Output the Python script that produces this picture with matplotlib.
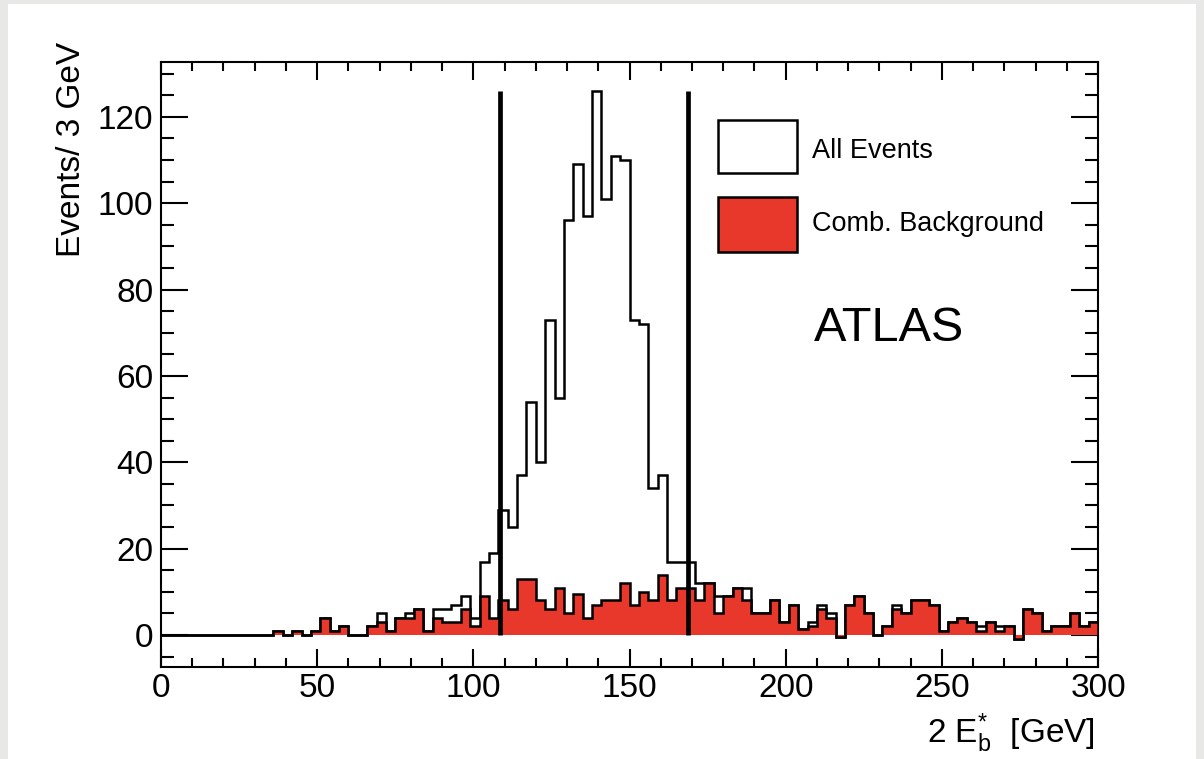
import numpy as np
import matplotlib
matplotlib.use("Agg")
import matplotlib.pyplot as plt
from matplotlib.patches import Rectangle
from matplotlib.ticker import MultipleLocator

plt.rcParams["font.family"] = ["Liberation Sans", "DejaVu Sans"]
plt.rcParams["mathtext.fontset"] = "custom"
plt.rcParams["mathtext.rm"] = "Liberation Sans"
plt.rcParams["mathtext.it"] = "Liberation Sans:italic"

# 100 bins of 3 GeV, 0 - 300 GeV
bin_edges = np.arange(0, 301, 3)

all_events = [0, 0, 0, 0, 0, 0, 0, 0, 0, 0,
              0, 0, 1, 0, 1, 0, 1, 4, 1, 2,
              0, 0, 2, 5, 1, 4, 5, 6, 1, 6,
              6, 7, 9, 4, 17, 19, 29, 25, 37, 54,
              40, 73, 55, 96, 109, 97, 126, 101, 111, 110,
              73, 72, 34, 37, 17, 17, 17, 12, 12, 9,
              9, 11, 11, 5, 5, 8, 3, 7, 1.5, 3,
              7, 5, -0.5, 7, 9, 5, 0, 2, 7, 5,
              8, 8, 7, 1, 3, 4, 3, 2, 3, 2,
              2, -1, 6, 5, 1, 2, 2, 5, 2, 3]

comb_background = [0, 0, 0, 0, 0, 0, 0, 0, 0, 0,
                   0, 0, 1, 0, 1, 0, 1, 4, 1, 2,
                   0, 0, 2, 3, 1, 4, 4, 6, 1, 4,
                   3, 3, 6, 2, 9, 4, 8, 6, 13, 13,
                   8, 6, 11, 5, 9.5, 4, 7, 8, 8, 12,
                   7, 10, 8, 14, 8, 11, 11, 8, 12, 5,
                   9, 11, 8, 5, 5, 8, 3, 7, 1.5, 2,
                   6, 4, -0.5, 7, 9, 5, 0, 2, 6, 5,
                   8, 8, 7, 1, 3, 4, 3, 1, 3, 1,
                   2, -1, 6, 5, 1, 2, 2, 5, 2, 3]

cut_low = 108.5
cut_high = 168.8
cut_top = 126

red = "#e8382b"

fig = plt.figure(figsize=(12.04, 7.59), dpi=100, facecolor="#e8e8e6")
card = Rectangle((8 / 1204, 0), 1188 / 1204, 755 / 759,
                 transform=fig.transFigure, facecolor="white",
                 edgecolor="none", zorder=-10)
fig.add_artist(card)

ax = fig.add_axes([161 / 1204, 92 / 759, 937 / 1204, 605 / 759])
ax.set_facecolor("white")

ax.stairs(all_events, bin_edges, color="black", linewidth=1.8, zorder=2)
ax.stairs(comb_background, bin_edges, fill=True, color=red, linewidth=0, zorder=3)
ax.stairs(comb_background, bin_edges, color="black", linewidth=1.8, zorder=4)
ax.vlines([cut_low, cut_high], 0, cut_top, color="black", linewidth=3.4, zorder=5)

ax.set_xlim(0, 300)
ax.set_ylim(-7.4, 132.7)
ax.xaxis.set_major_locator(MultipleLocator(50))
ax.xaxis.set_minor_locator(MultipleLocator(10))
ax.yaxis.set_major_locator(MultipleLocator(20))
ax.yaxis.set_minor_locator(MultipleLocator(5))

for s in ax.spines.values():
    s.set_linewidth(1.5)
ax.tick_params(axis="both", which="both", direction="in", top=True, right=True,
               width=1.5, labelsize=24)
ax.tick_params(axis="x", which="major", length=13, pad=4)
ax.tick_params(axis="x", which="minor", length=6.5)
ax.tick_params(axis="y", which="major", length=19.5, pad=5.5)
ax.tick_params(axis="y", which="minor", length=9.5)

# legend boxes
ax.add_patch(Rectangle((0.5944, 0.8165), 0.0844, 0.0875, transform=ax.transAxes,
                       facecolor="white", edgecolor="black", linewidth=1.8, zorder=6))
ax.add_patch(Rectangle((0.5944, 0.686), 0.0844, 0.0909, transform=ax.transAxes,
                       facecolor=red, edgecolor="black", linewidth=1.8, zorder=6))
ax.text(0.6948, 0.853, "All Events", transform=ax.transAxes, fontsize=19.5,
        va="center", ha="left")
ax.text(0.6948, 0.7325, "Comb. Background", transform=ax.transAxes, fontsize=19.5,
        va="center", ha="left")
ax.text(0.697, 0.560, "ATLAS", transform=ax.transAxes, fontsize=35,
        va="center", ha="left")

fig.text(72 / 1204, (759 - 42) / 759, "Events/ 3 GeV", rotation=90,
         fontsize=24, ha="center", va="top")
fig.text(1095 / 1204, 16 / 759, r"2 $\mathrm{E}_{\mathrm{b}}^{*}$  [GeV]",
         fontsize=24, ha="right", va="baseline")

fig.savefig("out.png", dpi=100, facecolor=fig.get_facecolor())
